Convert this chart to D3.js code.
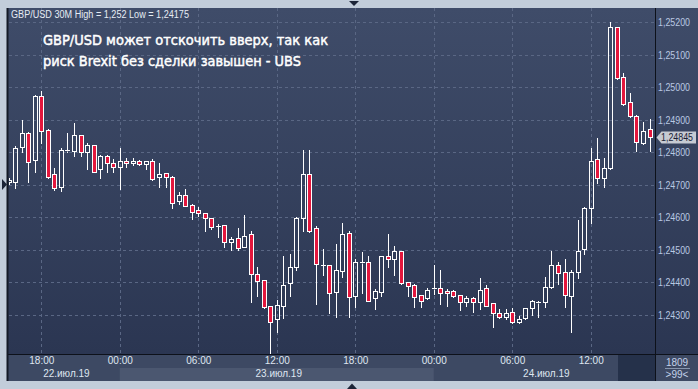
<!DOCTYPE html>
<html>
<head>
<meta charset="utf-8">
<script src="https://cdn.jsdelivr.net/npm/d3@7"></script>
<style>
  html, body { margin: 0; padding: 0; background: #c2cdda; }
  svg { display: block; }
</style>
</head>
<body>
<div id="chart"></div>
<script>
// GBP/USD 30M candles, 22.07.19 15:30 UTC onwards, one per 30 minutes
const startTime = Date.UTC(2019, 6, 22, 15, 30);
const opens = [1.24708,1.24709,1.24817,1.24858,1.24776,1.24972,1.24868,1.24732,1.24694,1.24806,
  1.24804,1.24853,1.24801,1.24822,1.24747,1.24788,1.24766,1.24755,1.24773,1.24766,
  1.24773,1.24762,1.24773,1.24722,1.24735,1.24722,1.24651,1.24668,1.24637,1.24622,
  1.24612,1.24596,1.24574,1.24576,1.24524,1.24535,1.24509,1.24547,1.24424,1.24407,
  1.24327,1.24286,1.24328,1.24397,1.24446,1.24596,1.24732,1.24566,1.24453,1.24453,
  1.24371,1.24435,1.24550,1.24358,1.24461,1.24461,1.24350,1.24371,1.24480,1.24470,
  1.24496,1.24400,1.24391,1.24361,1.24350,1.24381,1.24381,1.24373,1.24373,1.24361,
  1.24340,1.24350,1.24340,1.24381,1.24335,1.24304,1.24294,1.24309,1.24278,1.24289,
  1.24320,1.24340,1.24340,1.24384,1.24453,1.24430,1.24358,1.24430,1.24501,1.24629,
  1.24778,1.24721,1.24750,1.25184,1.25032,1.24953,1.24912,1.24829,1.24870];
const highs = [1.24720,1.24819,1.24899,1.24862,1.24976,1.24988,1.24871,1.24750,1.24813,1.24858,
  1.24889,1.24854,1.24829,1.24823,1.24790,1.24790,1.24778,1.24813,1.24783,1.24783,
  1.24776,1.24774,1.24779,1.24767,1.24737,1.24725,1.24676,1.24686,1.24639,1.24630,
  1.24613,1.24597,1.24578,1.24577,1.24538,1.24566,1.24607,1.24557,1.24446,1.24408,
  1.24328,1.24345,1.24480,1.24487,1.24600,1.24806,1.24806,1.24573,1.24502,1.24454,
  1.24517,1.24583,1.24557,1.24470,1.24494,1.24480,1.24378,1.24482,1.24548,1.24511,
  1.24497,1.24401,1.24393,1.24362,1.24381,1.24453,1.24437,1.24378,1.24376,1.24362,
  1.24357,1.24355,1.24414,1.24391,1.24336,1.24317,1.24317,1.24321,1.24296,1.24321,
  1.24344,1.24342,1.24415,1.24497,1.24463,1.24471,1.24437,1.24591,1.24632,1.24813,
  1.24844,1.24781,1.25200,1.25185,1.25042,1.24981,1.24913,1.24892,1.24902];
const lows = [1.24702,1.24690,1.24801,1.24709,1.24740,1.24829,1.24719,1.24683,1.24680,1.24801,
  1.24788,1.24788,1.24747,1.24739,1.24721,1.24740,1.24740,1.24686,1.24755,1.24760,
  1.24760,1.24747,1.24714,1.24692,1.24692,1.24627,1.24640,1.24634,1.24594,1.24604,
  1.24558,1.24563,1.24540,1.24509,1.24499,1.24499,1.24507,1.24340,1.24358,1.24320,
  1.24175,1.24248,1.24289,1.24358,1.24437,1.24558,1.24554,1.24333,1.24422,1.24304,
  1.24294,1.24415,1.24294,1.24325,1.24366,1.24342,1.24317,1.24358,1.24446,1.24422,
  1.24394,1.24357,1.24325,1.24325,1.24348,1.24364,1.24333,1.24327,1.24355,1.24314,
  1.24327,1.24309,1.24317,1.24327,1.24263,1.24289,1.24286,1.24276,1.24275,1.24286,
  1.24299,1.24294,1.24325,1.24382,1.24394,1.24325,1.24248,1.24414,1.24486,1.24581,
  1.24706,1.24694,1.24747,1.25026,1.24946,1.24907,1.24804,1.24825,1.24804];
const closes = [1.24714,1.24812,1.24858,1.24770,1.24972,1.24866,1.24724,1.24691,1.24806,1.24804,
  1.24853,1.24801,1.24822,1.24740,1.24788,1.24766,1.24755,1.24773,1.24766,1.24773,
  1.24762,1.24773,1.24716,1.24732,1.24722,1.24643,1.24668,1.24635,1.24615,1.24612,
  1.24596,1.24571,1.24573,1.24524,1.24532,1.24506,1.24542,1.24424,1.24405,1.24325,
  1.24278,1.24330,1.24391,1.24446,1.24596,1.24732,1.24558,1.24455,1.24452,1.24366,
  1.24437,1.24548,1.24355,1.24461,1.24460,1.24343,1.24373,1.24480,1.24470,1.24496,
  1.24398,1.24389,1.24355,1.24343,1.24376,1.24380,1.24366,1.24366,1.24358,1.24340,
  1.24350,1.24340,1.24376,1.24328,1.24304,1.24294,1.24304,1.24278,1.24286,1.24320,
  1.24342,1.24335,1.24384,1.24453,1.24429,1.24361,1.24430,1.24496,1.24627,1.24773,
  1.24720,1.24750,1.25184,1.25027,1.24947,1.24912,1.24832,1.24866,1.24845];

const priceTicks = [1.243,1.244,1.245,1.246,1.247,1.248,1.249,1.250,1.251,1.252];
const timeTicks = ["2019-07-22T18:00Z","2019-07-23T00:00Z","2019-07-23T06:00Z","2019-07-23T12:00Z",
  "2019-07-23T18:00Z","2019-07-24T00:00Z","2019-07-24T06:00Z","2019-07-24T12:00Z"].map(s => new Date(s));
const dayStarts = ["2019-07-22T00:00Z","2019-07-23T00:00Z","2019-07-24T00:00Z","2019-07-25T00:00Z"].map(s => new Date(s));

const headerText = "GBP/USD 30M High = 1,252 Low = 1,24175";
const titleLines = ["GBP/USD может отскочить вверх, так как", "риск Brexit без сделки завышен - UBS"];

const candles = opens.map((o, i) => ({
  t: new Date(startTime + i * 30 * 60 * 1000),
  o, h: highs[i], l: lows[i], c: closes[i]
}));

const width = 698, height = 389;
const plot = {left: 8, top: 8, right: 655, bottom: 354};
const axisBottom = 381;

const ruLocale = d3.timeFormatLocale({
  dateTime: "%A, %e %B %Y г. %X", date: "%d.%m.%Y", time: "%H:%M:%S",
  periods: ["AM", "PM"],
  days: ["воскресенье","понедельник","вторник","среда","четверг","пятница","суббота"],
  shortDays: ["вс","пн","вт","ср","чт","пт","сб"],
  months: ["январь","февраль","март","апрель","май","июнь","июль","август","сентябрь","октябрь","ноябрь","декабрь"],
  shortMonths: ["янв","фев","мар","апр","май","июн","июл","авг","сен","окт","ноя","дек"]
});
const fmtDay = ruLocale.utcFormat("%d.%b.%y");
const fmtTime = d3.utcFormat("%H:%M");
const fmtPrice = d3.formatLocale({decimal: ",", thousands: " ", grouping: [3], currency: ["", ""]}).format(".5f");

const x = d3.scaleUtc()
  .domain([timeTicks[0], timeTicks[timeTicks.length - 1]])
  .range([41.3, 590.7]);
const y = d3.scaleLinear()
  .domain([1.243, 1.252])
  .range([314.7, 22]);

const svg = d3.select("#chart").append("svg")
  .attr("width", width).attr("height", height);

const defs = svg.append("defs");
const grad = defs.append("linearGradient").attr("id", "bg").attr("x1", 0).attr("y1", 0).attr("x2", 0).attr("y2", 1);
grad.append("stop").attr("offset", "0%").attr("stop-color", "#3f4c69");
grad.append("stop").attr("offset", "100%").attr("stop-color", "#2b3652");
defs.append("clipPath").attr("id", "plotClip").append("rect")
  .attr("x", plot.left + 1).attr("y", plot.top).attr("width", plot.right - plot.left - 1).attr("height", plot.bottom - plot.top);

// frame
svg.append("rect").attr("width", width).attr("height", height).attr("fill", "#c2cdda");
svg.append("rect").attr("x", plot.left).attr("y", plot.top)
  .attr("width", width - plot.left).attr("height", plot.bottom - plot.top).attr("fill", "url(#bg)");

// time axis background and day bands
svg.append("rect").attr("x", plot.left).attr("y", plot.bottom)
  .attr("width", width - plot.left).attr("height", axisBottom - plot.bottom).attr("fill", "#3d4963");
const days = dayStarts.slice(0, -1).map((d, i) => {
  const x0 = Math.max(plot.left + 1, x(d)), x1 = Math.min(plot.right, x(dayStarts[i + 1]));
  return {d, x0, x1, i};
});
svg.append("g").selectAll("rect").data(days.filter(d => d.i % 2 === 1)).join("rect")
  .attr("x", d => d.x0).attr("y", 368).attr("width", d => d.x1 - d.x0).attr("height", axisBottom - 368)
  .attr("fill", "#4b5770");
svg.append("rect").attr("x", 618).attr("y", plot.bottom).attr("width", plot.right - 618).attr("height", axisBottom - plot.bottom)
  .attr("fill", "#25314a");

// grid
const grid = svg.append("g").attr("stroke", "#5a6784").attr("stroke-dasharray", "3,3").attr("stroke-width", 1);
grid.selectAll("line.h").data(priceTicks).join("line")
  .attr("x1", plot.left + 1).attr("x2", plot.right)
  .attr("y1", d => Math.round(y(d)) + 0.5).attr("y2", d => Math.round(y(d)) + 0.5);
grid.selectAll("line.v").data(timeTicks).join("line")
  .attr("y1", plot.top).attr("y2", plot.bottom)
  .attr("x1", d => Math.round(x(d)) + 0.5).attr("x2", d => Math.round(x(d)) + 0.5);

// candles
const cx = d => Math.round(x(d.t)) + 0.5;
const py = v => Math.round(y(v)) + 0.5;
const g = svg.append("g").attr("clip-path", "url(#plotClip)");
const bodyTop = d => py(Math.max(d.o, d.c));
const bodyBot = d => py(Math.min(d.o, d.c));
const isDoji = d => bodyBot(d) - bodyTop(d) < 1.5;

g.selectAll("line.wu").data(candles).join("line")
  .attr("x1", cx).attr("x2", cx)
  .attr("y1", d => py(d.h) - 0.5).attr("y2", bodyTop)
  .attr("stroke", "#ffffff");
g.selectAll("line.wl").data(candles).join("line")
  .attr("x1", cx).attr("x2", cx)
  .attr("y1", bodyBot).attr("y2", d => py(d.l) + 0.5)
  .attr("stroke", "#ffffff");
g.selectAll("rect.body").data(candles.filter(d => !isDoji(d))).join("rect")
  .attr("x", d => cx(d) - 2).attr("width", 4)
  .attr("y", bodyTop).attr("height", d => bodyBot(d) - bodyTop(d))
  .attr("fill", d => d.c < d.o ? "#e3173d" : "none")
  .attr("stroke", "#ffffff").attr("stroke-width", 1);
g.selectAll("line.doji").data(candles.filter(isDoji)).join("line")
  .attr("x1", d => cx(d) - 2.5).attr("x2", d => cx(d) + 2.5)
  .attr("y1", bodyTop).attr("y2", bodyTop)
  .attr("stroke", "#ffffff");

// separators
svg.append("line").attr("x1", plot.left).attr("x2", width).attr("y1", plot.bottom + 0.5).attr("y2", plot.bottom + 0.5)
  .attr("stroke", "#0d111a");
svg.append("line").attr("x1", plot.right + 0.5).attr("x2", plot.right + 0.5).attr("y1", plot.top).attr("y2", axisBottom)
  .attr("stroke", "#0d111a");
svg.append("line").attr("x1", plot.left - 0.5).attr("x2", plot.left - 0.5).attr("y1", plot.top).attr("y2", axisBottom)
  .attr("stroke", "#141a26").attr("stroke-width", 2);

// price axis
const yAxis = svg.append("g").attr("transform", `translate(${plot.right + 3},0)`)
  .call(d3.axisRight(y).tickValues(priceTicks).tickFormat(fmtPrice).tickSize(0).tickPadding(0));
yAxis.select(".domain").remove();
yAxis.selectAll("text")
  .attr("fill", "#b9c8e2").attr("font-family", "Liberation Sans, Arial, sans-serif").attr("font-size", 11)
  .attr("textLength", 32).attr("lengthAdjust", "spacingAndGlyphs");

// time axis
const xAxis = svg.append("g").attr("transform", `translate(0,${plot.bottom + 3})`)
  .call(d3.axisBottom(x).tickValues(timeTicks).tickFormat(fmtTime).tickSize(0).tickPadding(0));
xAxis.select(".domain").remove();
xAxis.selectAll("text")
  .attr("fill", "#dfe6f0").attr("font-family", "Liberation Sans, Arial, sans-serif").attr("font-size", 10)
  .attr("dy", "0.71em");
svg.append("g").selectAll("text").data(days).join("text")
  .attr("x", d => (d.x0 + d.x1) / 2 + 2).attr("y", 377)
  .attr("text-anchor", "middle")
  .attr("fill", "#dfe6f0").attr("font-family", "Liberation Sans, Arial, sans-serif").attr("font-size", 10)
  .text(d => fmtDay(d.d));

// bottom right counters
const corner = svg.append("g").attr("font-family", "Liberation Sans, Arial, sans-serif").attr("font-size", 10)
  .attr("fill", "#c3d2ea").attr("text-anchor", "middle");
corner.append("text").attr("x", 677).attr("y", 365.5).text("1809");
corner.append("line").attr("x1", 665).attr("x2", 690).attr("y1", 368.5).attr("y2", 368.5).attr("stroke", "#8796ae");
corner.append("text").attr("x", 677).attr("y", 377.5).text(">99<");

// last price tag
const last = candles[candles.length - 1];
const ly = Math.round(y(last.c)) + 0.5;
svg.append("path")
  .attr("d", `M${plot.right + 1.5},${ly} L${plot.right + 6.5},${ly - 6} L${width - 2},${ly - 6} L${width - 2},${ly + 6} L${plot.right + 6.5},${ly + 6} Z`)
  .attr("fill", "#c6cad2");
svg.append("text").attr("x", plot.right + 6).attr("y", ly).attr("dy", "0.36em")
  .attr("fill", "#1a2234").attr("font-family", "Liberation Sans, Arial, sans-serif").attr("font-size", 11)
  .attr("textLength", 32).attr("lengthAdjust", "spacingAndGlyphs")
  .text(fmtPrice(last.c));

// header and headline
svg.append("text").attr("x", 11).attr("y", 18)
  .attr("fill", "#e6ecf4").attr("font-family", "Liberation Sans, Arial, sans-serif").attr("font-size", 10)
  .attr("textLength", 178).attr("lengthAdjust", "spacingAndGlyphs")
  .text(headerText);
const tl = [285, 258];
svg.append("g").selectAll("text").data(titleLines).join("text")
  .attr("x", 43).attr("y", (d, i) => 45 + i * 20.5)
  .attr("fill", "#ffffff").attr("stroke", "#ffffff").attr("stroke-width", 0.5)
  .attr("font-family", "DejaVu Sans, sans-serif").attr("font-size", 14.5)
  .attr("textLength", (d, i) => tl[i]).attr("lengthAdjust", "spacingAndGlyphs")
  .text(d => d);

// cursor markers on the frame
const mk = svg.append("g").attr("fill", "#1c2538");
mk.append("path").attr("d", "M349,1 L359,1 L354,6 Z");
mk.append("path").attr("d", "M347,389 L357,389 L352,383.5 Z");
mk.append("path").attr("d", "M2,179 L2,190 L7,184.5 Z");
</script>
</body>
</html>
